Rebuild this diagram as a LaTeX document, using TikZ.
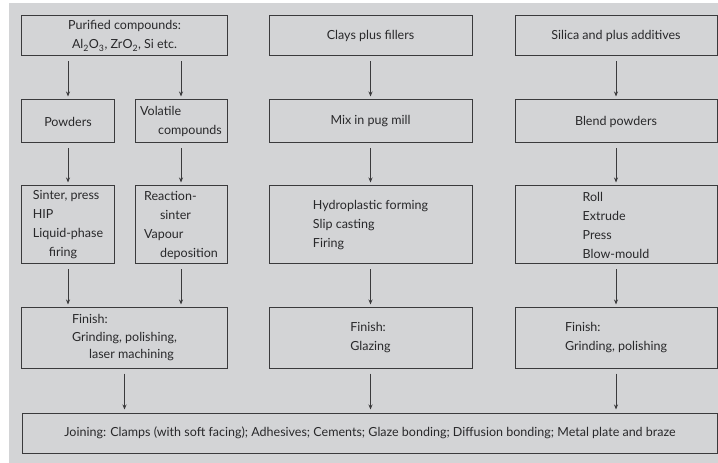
\documentclass[tikz,border=0pt]{standalone}
\usepackage{fontspec}
\setmainfont{Lato}
\usetikzlibrary{arrows.meta}
\definecolor{bg}{RGB}{211,212,214}
\definecolor{ln}{RGB}{58,58,60}
\definecolor{tx}{RGB}{40,40,42}
\tikzset{
  box/.style={draw=ln, line width=1bp, align=left, inner sep=0pt, text=tx,
    font=\fontsize{12.5bp}{19bp}\selectfont},
  arr/.style={draw=ln, line width=0.8bp, -{Stealth[length=5bp,width=4bp]},
    shorten <=5bp, shorten >=3bp}
}
\begin{document}
\begin{tikzpicture}[x=1bp,y=-1bp]
\useasboundingbox (0,0) rectangle (718,463);
\fill[bg] (9,3) rectangle (718,463);
% row 1
\node[box, align=center, minimum width=205bp, minimum height=40bp] (pur) at (124.5,36)
  {Purified compounds:\\Al\textsubscript{2}O\textsubscript{3}, ZrO\textsubscript{2}, Si etc.};
\node[box, minimum width=203bp, minimum height=40bp] (clay) at (370.5,36) {Clays plus fillers};
\node[box, minimum width=202bp, minimum height=40bp] (sil) at (616,36) {Silica and plus additives};
% row 2
\node[box, minimum width=92bp, minimum height=43bp] (pow) at (68,121.5) {Powders};
\node[box, minimum width=92bp, minimum height=43bp] (vol) at (181,121.5)
  {Volatile\\\hspace*{18bp}compounds};
\node[box, minimum width=203bp, minimum height=43bp] (mix) at (370.5,121.5) {Mix in pug mill};
\node[box, minimum width=202bp, minimum height=43bp] (blend) at (616,121.5) {Blend powders};
% row 3
\node[box, minimum width=92bp, minimum height=78bp] (sin) at (68,225)
  {Sinter, press\\HIP\\Liquid-phase\\\hspace*{16bp}firing};
\node[box, minimum width=92bp, minimum height=78bp] (rea) at (181,225)
  {Reaction-\\\hspace*{16bp}sinter\\Vapour\\\hspace*{16bp}deposition};
\node[box, minimum width=203bp, minimum height=78bp] (hyd) at (370.5,225)
  {Hydroplastic forming\\Slip casting\\Firing};
\node[box, minimum width=202bp, minimum height=78bp] (roll) at (616,225)
  {Roll\\Extrude\\Press\\Blow-mould};
% row 4
\node[box, minimum width=205bp, minimum height=60bp, font=\fontsize{12.5bp}{17.5bp}\selectfont] (finl) at (124.5,338)
  {Finish:\\Grinding, polishing,\\\hspace*{17bp}laser machining};
\node[box, minimum width=203bp, minimum height=60bp] (finm) at (370.5,338)
  {Finish:\\Glazing};
\node[box, minimum width=202bp, minimum height=60bp] (finr) at (616,338)
  {Finish:\\Grinding, polishing};
% row 5
\node[box, minimum width=694bp, minimum height=40bp] (join) at (370,433)
  {Joining: Clamps (with soft facing); Adhesives; Cements; Glaze bonding; Diffusion bonding; Metal plate and braze};
% arrows
\draw[arr] (pow |- pur.south) -- (pow.north);
\draw[arr] (vol |- pur.south) -- (vol.north);
\draw[arr] (clay) -- (mix);
\draw[arr] (sil.south) -- (blend.north);
\draw[arr] (pow.south) -- (sin.north);
\draw[arr] (vol.south) -- (rea.north);
\draw[arr] (mix.south) -- (hyd.north);
\draw[arr] (blend.south) -- (roll.north);
\draw[arr] (sin.south) -- (sin.south |- finl.north);
\draw[arr] (rea.south) -- (rea.south |- finl.north);
\draw[arr] (hyd.south) -- (finm.north);
\draw[arr] (roll.south) -- (finr.north);
\draw[arr] (finl.south) -- (finl.south |- join.north);
\draw[arr] (finm.south) -- (finm.south |- join.north);
\draw[arr] (finr.south) -- (finr.south |- join.north);
\end{tikzpicture}
\end{document}
